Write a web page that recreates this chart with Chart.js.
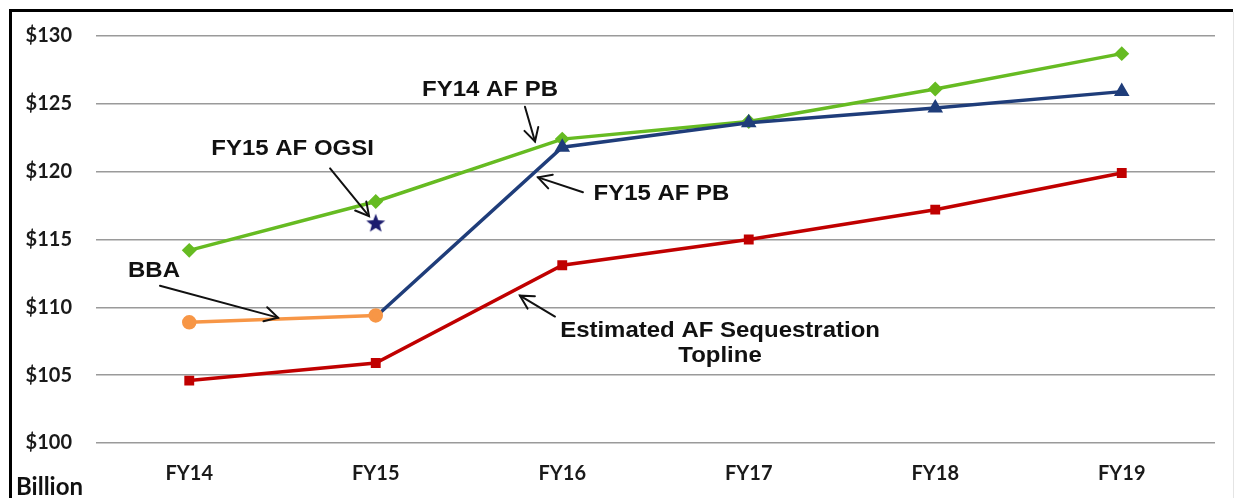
<!DOCTYPE html>
<html><head><meta charset="utf-8">
<script src="https://cdn.jsdelivr.net/npm/chart.js@4"></script>
<style>html,body{margin:0;padding:0;background:#fff;overflow:hidden}canvas{display:block}</style>
</head><body>
<canvas id="c" width="1236" height="498"></canvas>
<script>
// ---- data ----
const categories = ['FY14','FY15','FY16','FY17','FY18','FY19'];
const fy14AfPb = [114.2,117.8,122.4,123.7,126.1,128.7];
const fy15AfPb = [null,109.3,121.8,123.6,124.7,125.9];
const bba = [108.9,109.4,null,null,null,null];
const sequestration = [104.6,105.9,113.1,115.0,117.2,119.9];
const fy15Ogsi = [null,116.2,null,null,null,null];
const yTicks = [100,105,110,115,120,125,130];
const unitLabel = 'Billion';

// annotation texts (positions in data units: category index, value)
const annotations = [
  {lines:['FY14 AF PB'], at:[1.613,126.04], from:[1.800,124.79], to:[1.854,122.22]},
  {lines:['FY15 AF PB'], at:[2.532,118.34], from:[2.111,118.48], to:[1.870,119.58]},
  {lines:['FY15 AF OGSI'], at:[0.554,121.64], from:[0.755,120.24], to:[0.964,116.72]},
  {lines:['BBA'], at:[-0.189,112.69], from:[-0.157,111.59], to:[0.476,109.24]},
  {lines:['Estimated AF Sequestration','Topline'], at:[2.846,108.29], lineGap:[0,-1.84], from:[1.961,109.32], to:[1.773,110.86]}
];

// filled star point image
const starImg = document.createElement('canvas');
starImg.width = 22; starImg.height = 22;
(function(){
  const g = starImg.getContext('2d');
  g.beginPath();
  for (let i=0;i<10;i++){
    const r = i%2===0 ? 10 : 4.2;
    const a = -Math.PI/2 + i*Math.PI/5;
    const px = 11 + r*Math.cos(a), py = 11.5 + r*Math.sin(a);
    i===0 ? g.moveTo(px,py) : g.lineTo(px,py);
  }
  g.closePath();
  g.fillStyle = '#1c1c6e';
  g.fill();
})();

const annotPlugin = {
  id:'annot',
  afterDraw(chart){
    const ctx = chart.ctx, xs = chart.scales.x, ys = chart.scales.y;
    const P = (p)=>[xs.getPixelForValue(p[0]), ys.getPixelForValue(p[1])];
    ctx.save();
    // frame
    ctx.strokeStyle = '#000'; ctx.lineWidth = 3;
    ctx.beginPath(); ctx.moveTo(10.5, 498); ctx.lineTo(10.5, 10.5); ctx.lineTo(1233, 10.5); ctx.stroke();
    ctx.strokeStyle = '#e4e4e4'; ctx.lineWidth = 1;
    ctx.beginPath(); ctx.moveTo(1233.5, 12); ctx.lineTo(1233.5, 498); ctx.stroke();
    // unit label
    ctx.fillStyle = '#111';
    ctx.font = 'bold 24px Lato';
    ctx.textAlign = 'left'; ctx.textBaseline = 'middle';
    ctx.fillText(unitLabel, 16, 487);
    // annotations
    ctx.font = 'bold 22px "Liberation Sans", Arial, sans-serif';
    ctx.textAlign = 'center';
    annotations.forEach(a=>{
      const [tx,ty] = P(a.at);
      a.lines.forEach((ln,i)=>{
        let y = ty;
        if (i>0 && a.lineGap) y = ys.getPixelForValue(a.at[1]+a.lineGap[1]);
        ctx.save();
        ctx.translate(tx, y); ctx.scale(1.09, 1);
        ctx.fillStyle = '#111';
        ctx.fillText(ln, 0, 0);
        ctx.restore();
      });
      const [x1,y1] = P(a.from), [x2,y2] = P(a.to);
      ctx.strokeStyle = '#111'; ctx.lineWidth = 2; ctx.lineCap='round';
      ctx.beginPath(); ctx.moveTo(x1,y1); ctx.lineTo(x2,y2); ctx.stroke();
      const ang = Math.atan2(y2-y1, x2-x1), L = 15, w = 0.5;
      ctx.beginPath();
      ctx.moveTo(x2 - L*Math.cos(ang-w), y2 - L*Math.sin(ang-w));
      ctx.lineTo(x2,y2);
      ctx.lineTo(x2 - L*Math.cos(ang+w), y2 - L*Math.sin(ang+w));
      ctx.stroke();
    });
    ctx.restore();
  }
};

new Chart(document.getElementById('c'), {
  type:'line',
  data:{
    labels: categories,
    datasets:[
      {label:'FY15 AF OGSI', data:fy15Ogsi, borderColor:'#1c1c6e', backgroundColor:'#1c1c6e', showLine:false, pointStyle:starImg, pointRadius:10},
      {label:'BBA', data:bba, borderColor:'#f79646', backgroundColor:'#f79646', borderWidth:3.5, pointStyle:'circle', pointRadius:5.5},
      {label:'FY15 AF PB', data:fy15AfPb, borderColor:'#1f3d7a', backgroundColor:'#1f3d7a', borderWidth:3.5, pointStyle:'triangle', pointRadius:(c)=>c.dataIndex<=1?0:5.5},
      {label:'FY14 AF PB', data:fy14AfPb, borderColor:'#66bb22', backgroundColor:'#66bb22', borderWidth:3.5, pointStyle:'rectRot', pointRadius:5},
      {label:'Estimated AF Sequestration Topline', data:sequestration, borderColor:'#c00000', backgroundColor:'#c00000', borderWidth:3.5, pointStyle:'rect', pointRadius:4.5}
    ]
  },
  options:{
    responsive:false, animation:false, devicePixelRatio:1,
    layout:{padding:{top:34, right:21, bottom:0, left:0}},
    plugins:{legend:{display:false}, tooltip:{enabled:false}},
    elements:{line:{tension:0}, point:{borderWidth:1}},
    scales:{
      x:{
        type:'category', offset:true,
        grid:{display:false, drawTicks:false},
        border:{display:false},
        ticks:{color:'#1a1a1a', font:{family:'Lato', weight:'bold', size:20}, padding:19, maxRotation:0},
        afterFit(s){ s.height = 55; }
      },
      y:{
        min:100, max:130,
        afterBuildTicks(s){ s.ticks = yTicks.map(v=>({value:v})); },
        grid:{color:'#9a9a9a', lineWidth:1.5, drawTicks:false},
        border:{display:false},
        ticks:{color:'#1a1a1a', font:{family:'Lato', weight:'bold', size:20}, padding:24, callback:v=>'$'+v},
        afterFit(s){ s.width = 96; }
      }
    }
  },
  plugins:[annotPlugin]
});
</script>
</body></html>
